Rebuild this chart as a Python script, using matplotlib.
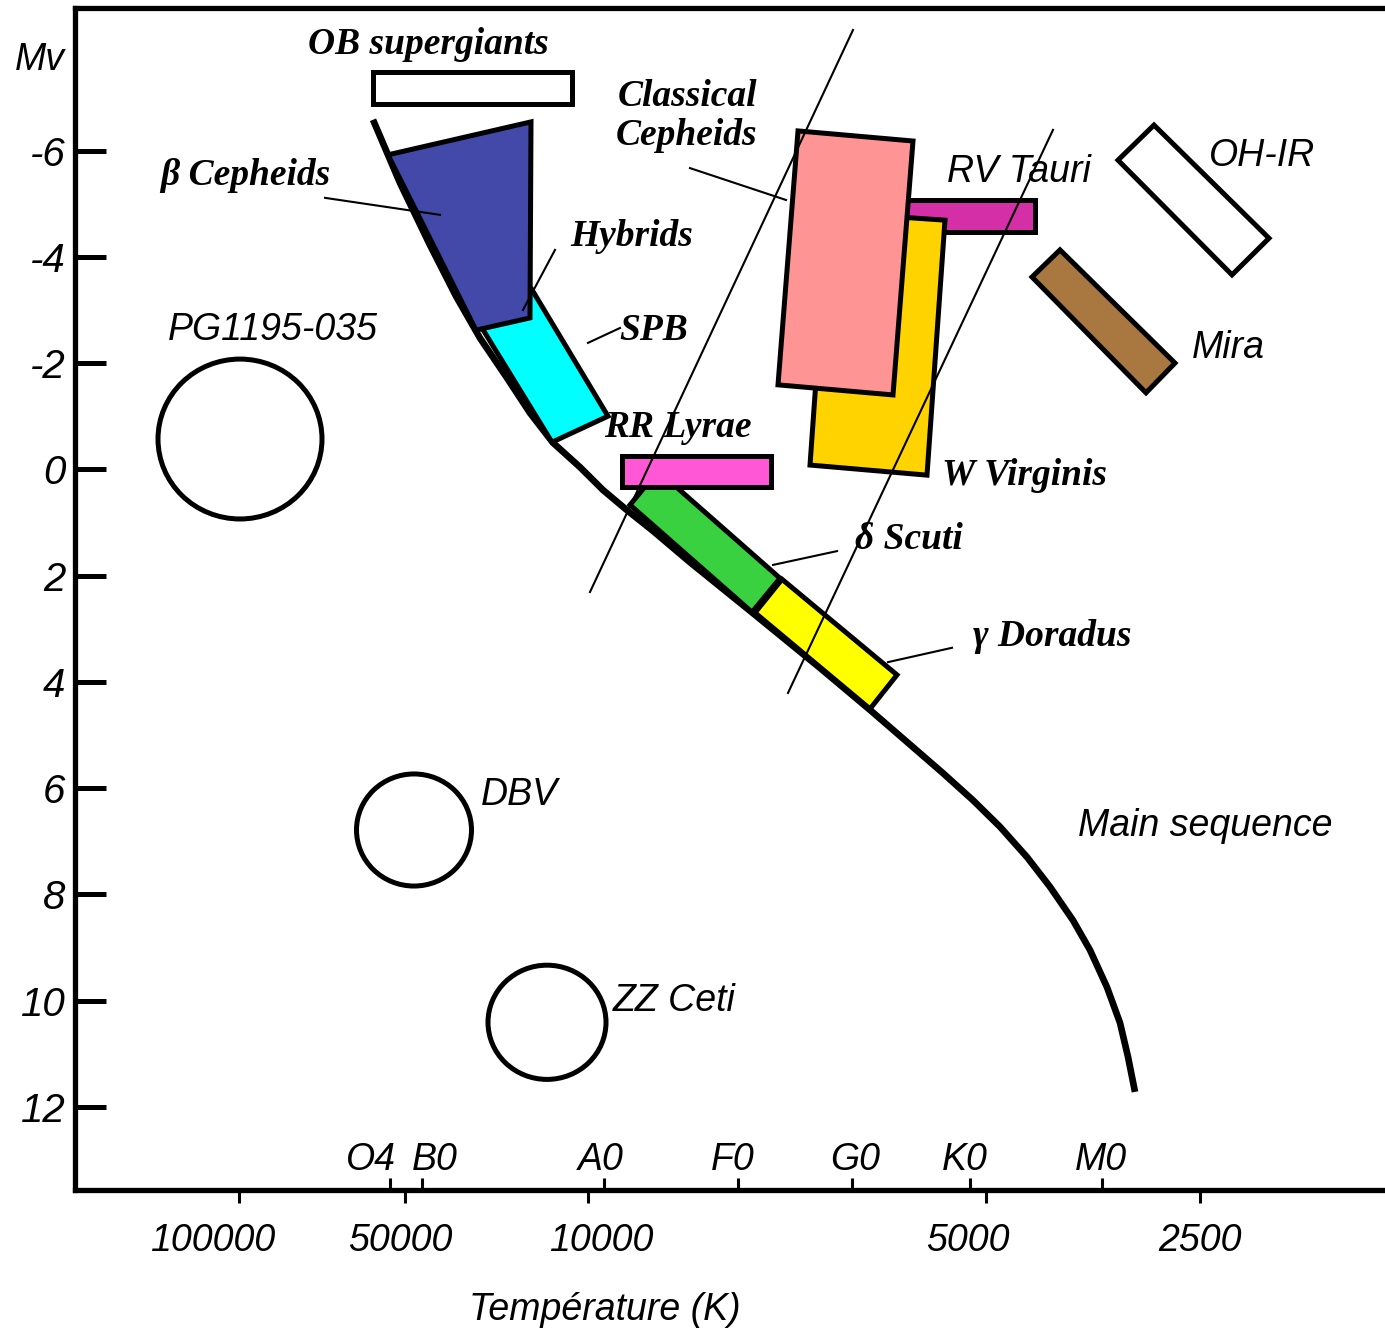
import matplotlib
matplotlib.use("Agg")
import matplotlib.pyplot as plt
from matplotlib.patches import Polygon, Ellipse

# x = schematic temperature position, y = absolute magnitude Mv

# main sequence
ms_x = [373, 400, 430, 456, 480, 507, 530, 553, 580, 603, 627, 653, 690, 755, 820,
        870, 905, 943, 973, 1000, 1027, 1050, 1073, 1090, 1107, 1120, 1128, 1135]
ms_mv = [-6.58, -5.39, -4.22, -3.26, -2.47, -1.72, -1.06, -0.50, -0.04, 0.39, 0.77,
         1.16, 1.75, 2.74, 3.74, 4.53, 5.10, 5.72, 6.23, 6.73, 7.30, 7.86, 8.49,
         9.05, 9.75, 10.42, 11.06, 11.72]

# pulsator regions
ob_x = [373, 572, 572, 373]
ob_mv = [-7.48, -7.48, -6.88, -6.88]
spb_x = [480, 532, 608, 552]
spb_mv = [-2.72, -3.38, -1.00, -0.51]
bcep_x = [388, 531, 530, 476]
bcep_mv = [-5.92, -6.54, -2.85, -2.62]
dsct_x = [630, 658, 780, 752]
dsct_mv = [0.67, 0.03, 2.05, 2.69]
gdor_x = [755, 782, 897, 870]
gdor_mv = [2.70, 2.07, 3.87, 4.51]
rrl_x = [622, 771, 771, 622]
rrl_mv = [-0.25, -0.25, 0.33, 0.33]
rvt_x = [890, 1035, 1035, 890]
rvt_mv = [-5.07, -5.07, -4.47, -4.47]
wvir_x = [828, 945, 927, 810]
wvir_mv = [-4.84, -4.69, 0.11, -0.08]
ceph_x = [798, 913, 893, 778]
ceph_mv = [-6.37, -6.18, -1.40, -1.59]
ohir_x = [1154, 1269, 1232, 1118]
ohir_mv = [-6.48, -4.35, -3.66, -5.82]
mira_x = [1060, 1175, 1146, 1032]
mira_mv = [-4.13, -2.00, -1.44, -3.62]

# compact pulsators (circles)
circ_x = [240, 414, 547]
circ_mv = [-0.57, 6.79, 10.41]
circ_w = [164, 115, 118]
circ_h = [3.01, 2.11, 2.15]

# instability strip edges
strip_x = [[590, 853], [788, 1053]]
strip_mv = [[2.31, -8.27], [4.21, -6.39]]

# leader lines
lead_x = [[325, 440], [555, 523], [588, 620], [690, 786], [773, 837], [888, 952]]
lead_mv = [[-5.11, -4.79], [-4.13, -3.00], [-2.38, -2.66], [-5.67, -5.07],
           [1.80, 1.54], [3.63, 3.36]]

serif_labels = ["OB supergiants", "β Cepheids", "Classical\nCepheids", "Hybrids",
                "SPB", "RR Lyrae", "W Virginis", "δ Scuti", "γ Doradus"]
serif_x = [428, 245, 687, 632, 654, 678, 1025, 909, 1052]
serif_mv = [-7.99, -5.54, -6.65, -4.39, -2.61, -0.78, 0.11, 1.33, 3.14]

sans_labels = ["PG1195-035", "DBV", "ZZ Ceti", "RV Tauri", "OH-IR", "Mira",
               "Main sequence"]
sans_x = [273, 519, 674, 1019, 1262, 1228, 1205]
sans_mv = [-2.62, 6.13, 10.01, -5.60, -5.90, -2.29, 6.71]

mv_ticks = [-6, -4, -2, 0, 2, 4, 6, 8, 10, 12]
temp_ticks = [239, 405, 588, 986, 1200]
temp_labels = ["100000", "50000", "10000", "5000", "2500"]
temp_label_x = [213, 400, 601, 968, 1200]
spec_ticks = [390, 422, 604, 738, 852, 970, 1102]
spec_labels = ["O4", "B0", "A0", "F0", "G0", "K0", "M0"]
spec_label_x = [371, 435, 601, 733, 855, 965, 1101]

SANS = "Liberation Sans"
SERIF = "Liberation Serif"
FS = 27

fig = plt.figure(figsize=(13.85, 13.3), dpi=100)
ax = fig.add_axes([75/1385, 140/1330, 1310/1385, 1182/1330])
ax.set_xlim(75, 1385)
ax.set_ylim(13.567, -8.684)

# circles
for x, y, w, h in zip(circ_x, circ_mv, circ_w, circ_h):
    ax.add_patch(Ellipse((x, y), w, h, fill=False, ec="black", lw=3.6, zorder=2))

ax.plot(ms_x, ms_mv, color="black", lw=4.8, solid_capstyle="butt",
        solid_joinstyle="round", zorder=3)

regions = [
    (ob_x, ob_mv, "white"),
    (spb_x, spb_mv, "#00FFFF"),
    (bcep_x, bcep_mv, "#4349A8"),
    (dsct_x, dsct_mv, "#3AD141"),
    (gdor_x, gdor_mv, "#FFFF00"),
    (rrl_x, rrl_mv, "#FF57D6"),
    (rvt_x, rvt_mv, "#D52FA8"),
    (wvir_x, wvir_mv, "#FFD300"),
    (ceph_x, ceph_mv, "#FF9494"),
    (ohir_x, ohir_mv, "white"),
    (mira_x, mira_mv, "#A97840"),
]
for i, (xs, ys, col) in enumerate(regions):
    ax.add_patch(Polygon(list(zip(xs, ys)), closed=True, fc=col, ec="black",
                         lw=3.6, joinstyle="miter", zorder=4 + i * 0.1))

for xs, ys in zip(strip_x, strip_mv):
    ax.plot(xs, ys, color="black", lw=1.5, zorder=8)
for xs, ys in zip(lead_x, lead_mv):
    ax.plot(xs, ys, color="black", lw=1.5, zorder=8)

for t, x, y in zip(serif_labels, serif_x, serif_mv):
    ax.text(x, y, t, family=SERIF, style="italic", weight="bold", fontsize=FS,
            ha="center", va="center", linespacing=1.15, zorder=9)
for t, x, y in zip(sans_labels, sans_x, sans_mv):
    ax.text(x, y, t, family=SANS, style="italic", fontsize=FS,
            ha="center", va="center", zorder=9)

ax.text(40, -7.71, "Mv", family=SANS, style="italic", fontsize=FS,
        ha="center", va="center")

# axes frame
for side in ["left", "bottom", "top"]:
    ax.spines[side].set_linewidth(3.8)
ax.spines["right"].set_visible(False)

ax.set_yticks(mv_ticks)
ax.set_yticklabels([str(v) for v in mv_ticks], family=SANS, style="italic",
                   fontsize=29)
ax.tick_params(axis="y", direction="in", length=22, width=3.6, pad=7)

ax.set_xticks(temp_ticks)
ax.set_xticklabels([])
ax.set_xticks(spec_ticks, minor=True)
ax.tick_params(axis="x", which="major", direction="out", length=9, width=2.2)
ax.tick_params(axis="x", which="minor", direction="in", length=9, width=2.2)

for t, x in zip(temp_labels, temp_label_x):
    ax.text(x, 14.53, t, family=SANS, style="italic", fontsize=FS,
            ha="center", va="center")
for t, x in zip(spec_labels, spec_label_x):
    ax.text(x, 13.0, t, family=SANS, style="italic", fontsize=FS,
            ha="center", va="center")
ax.text(605, 15.83, "Température (K)", family=SANS, style="italic", fontsize=FS,
        ha="center", va="center")

fig.savefig("out.png", dpi=100)
